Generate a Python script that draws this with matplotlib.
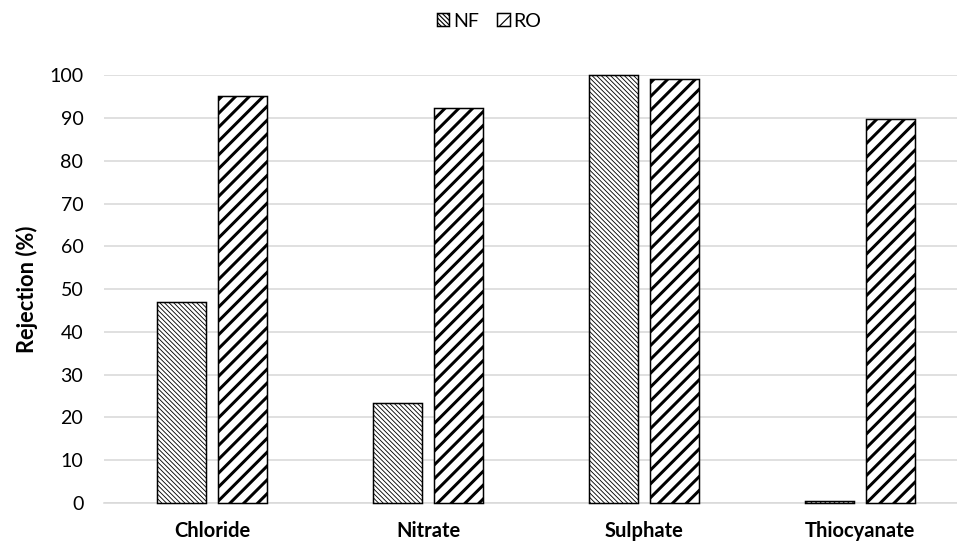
import matplotlib.pyplot as plt
import numpy as np

plt.rcParams['font.family'] = ['Lato', 'DejaVu Sans']

# Rejection of each anion by the two membranes
ANIONS = ['Chloride', 'Nitrate', 'Sulphate', 'Thiocyanate']
NF = [47.0, 23.5, 100.0, 0.4]
RO = [95.2, 92.5, 99.2, 89.9]

DPI = 83
fig = plt.figure(figsize=(957 / DPI, 543 / DPI), dpi=DPI)
ax = fig.add_axes([0.1087, 0.0737, 0.9028, 0.7873])

x = np.arange(len(ANIONS))
width = 0.227
offset = 0.1426

with plt.rc_context({'hatch.linewidth': 0.75}):
    ax.bar(x - offset, NF, width, color='white', edgecolor='black',
           linewidth=1.3, hatch='\\' * 6, label='NF', clip_on=False, zorder=3)
with plt.rc_context({'hatch.linewidth': 2.6}):
    ax.bar(x + offset, RO, width, color='white', edgecolor='black',
           linewidth=1.3, hatch='//', label='RO', clip_on=False, zorder=3)

ax.set_xlim(-0.5, len(ANIONS) - 0.5)
ax.set_ylim(0, 100)
ax.set_yticks(np.arange(0, 101, 10))
ax.set_xticks(x)
ax.set_xticklabels(ANIONS, fontweight='bold', fontsize=17.5)
ax.tick_params(axis='both', length=0, colors='black')
ax.tick_params(axis='y', labelsize=17, pad=18)
ax.tick_params(axis='x', pad=16)

ax.grid(axis='y', color='#d9d9d9', linewidth=1.4, zorder=0)
ax.set_axisbelow(True)
for side in ['top', 'right', 'left']:
    ax.spines[side].set_visible(False)
ax.spines['bottom'].set_color('#d9d9d9')
ax.spines['bottom'].set_linewidth(1.4)

ax.set_ylabel('Rejection (%)', fontsize=19, fontweight='bold', labelpad=10)

fig.legend(loc='center', bbox_to_anchor=(0.511, 0.961), ncol=2, frameon=False,
           fontsize=17, handlelength=0.65, handleheight=0.65,
           handletextpad=0.2, columnspacing=0.9)

fig.savefig('out.png', dpi=DPI)
